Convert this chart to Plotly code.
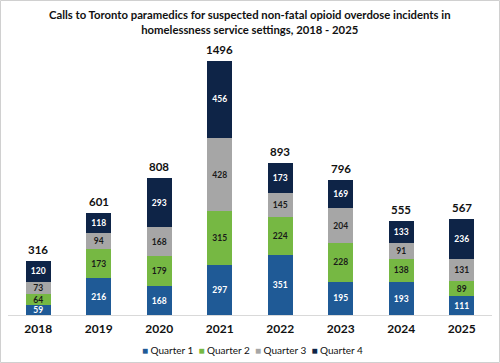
import plotly.graph_objects as go

years = ["2018", "2019", "2020", "2021", "2022", "2023", "2024", "2025"]
q1 = [59, 216, 168, 297, 351, 195, 193, 111]
q2 = [64, 173, 179, 315, 224, 228, 138, 89]
q3 = [73, 94, 168, 428, 145, 204, 91, 131]
q4 = [120, 118, 293, 456, 173, 169, 133, 236]
totals = [316, 601, 808, 1496, 893, 796, 555, 567]

series = [
    ("Quarter 1", q1, "#1F5A96", "white"),
    ("Quarter 2", q2, "#76B843", "#1a1a1a"),
    ("Quarter 3", q3, "#A6A6A6", "#1a1a1a"),
    ("Quarter 4", q4, "#0E2447", "white"),
]

FONT = "Lato"
fig = go.Figure()
for name, vals, col, tcol in series:
    fig.add_trace(go.Bar(
        x=years, y=vals, name=name, marker=dict(color=col, line=dict(width=0)),
        text=[str(v) for v in vals], textposition="inside", insidetextanchor="middle",
        textangle=0, textfont=dict(color=tcol, size=8.5, family=FONT, weight="bold"),
        constraintext="none", showlegend=False,
    ))

for i, t in enumerate(totals):
    fig.add_annotation(x=i, y=t, text=str(t), showarrow=False, yanchor="bottom", yshift=3,
                       font=dict(size=11.5, family=FONT, color="#111", weight="bold"))

W, H = 500, 363
L, R, T, B = 8, 8, 43, 48
pw, ph = W - L - R, H - T - B
fig.add_shape(type="rect", xref="paper", yref="paper",
              x0=-(L - 0.5) / pw, x1=1 + (R - 0.5) / pw, y0=-(B - 0.5) / ph, y1=1 + (T - 0.5) / ph,
              line=dict(color="#D0D0D0", width=1), layer="below")

# title
fig.add_annotation(xref="paper", yref="paper", x=0.5, y=1 + (T - 6) / ph, yanchor="top", xanchor="center",
                   showarrow=False, align="center",
                   text="Calls to Toronto paramedics for suspected non-fatal opioid overdose incidents in<br>homelessness service settings, 2018 - 2025",
                   font=dict(size=11.3, family=FONT, color="#111", weight="bold"))

# legend
legend_txt = "  ".join(
    f"<span style='color:{col}'>■</span> {name}" for name, _, col, _ in series)
fig.add_annotation(xref="paper", yref="paper", x=(252 - L) / pw, y=-(350 - (H - B)) / ph,
                   yanchor="middle", xanchor="center", showarrow=False, text=legend_txt,
                   font=dict(size=10, family=FONT, color="#111"))

fig.update_layout(
    width=W, height=H, margin=dict(l=L, r=R, t=T, b=B),
    barmode="stack", bargap=0.585,
    paper_bgcolor="white", plot_bgcolor="white",
    xaxis=dict(type="category", range=[-0.5, 7.5], showline=True, linecolor="#D9D9D9", linewidth=1,
               ticks="", tickfont=dict(size=12, family=FONT, color="#111", weight="bold"),
               ticklabelstandoff=3),
    yaxis=dict(range=[0, 1600], visible=False),
    showlegend=False,
)
fig.write_html("out.html", config={"displayModeBar": False},
               post_script="document.body.style.margin='0';document.body.style.overflow='hidden';")
